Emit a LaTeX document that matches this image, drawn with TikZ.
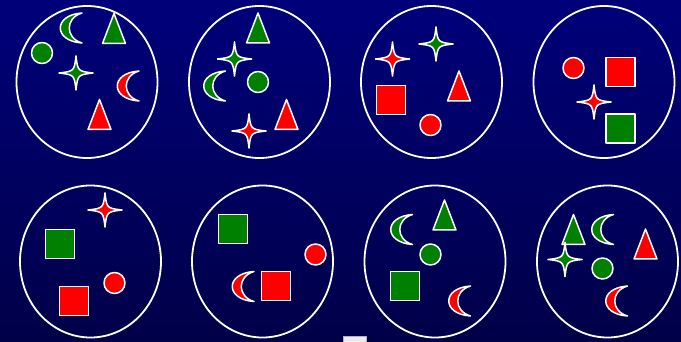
\documentclass[tikz,border=0pt]{standalone}
\usepackage{xcolor}
\usepackage{tikz}
\usetikzlibrary{shapes.geometric}
\definecolor{bgtop}{RGB}{0,0,122}
\definecolor{bgbot}{RGB}{0,0,72}
\definecolor{shgreen}{RGB}{0,128,0}
\definecolor{shred}{RGB}{255,0,0}

\begin{document}
\begin{tikzpicture}[%
  x=1pt, y=-1pt,
  bag/.style={ellipse, draw=white, line width=1.8pt, minimum width=141pt,
    minimum height=152pt, inner sep=0pt},
  gr/.style={fill=shgreen, draw=white, line width=1.5pt, line join=round},
  rd/.style={fill=shred, draw=white, line width=1.5pt, line join=round},
  disc/.style={circle, minimum size=21pt, inner sep=0pt},
  sq/.style={rectangle, minimum size=29pt, inner sep=0pt},
  tri/.pic={\path[pic actions] (0,-15) -- (11.5,15) -- (-11.5,15) -- cycle;},
  moon/.pic={\path[pic actions] (11,-15) .. controls (-18,-13) and (-18,13) .. (11,15)
    .. controls (-6,10) and (-6,-10) .. (11,-15) -- cycle;},
  spark/.pic={\path[pic actions] (0,-17) .. controls (1.8,-1.8) .. (17,0)
    .. controls (1.8,1.8) .. (0,17) .. controls (-1.8,1.8) .. (-17,0)
    .. controls (-1.8,-1.8) .. (0,-17) -- cycle;}]
  \shade[top color=bgtop, bottom color=bgbot] (0,0) rectangle (681,342);
  \useasboundingbox (0,0) rectangle (681,342);

  \node[bag] (bag1) at (87,82) {};
  \node[bag] (bag2) at (259.5,82) {};
  \node[bag] (bag3) at (431.5,82) {};
  \node[bag] (bag4) at (604,82) {};
  \node[bag] (bag5) at (90.5,261.5) {};
  \node[bag] (bag6) at (262.5,261.5) {};
  \node[bag] (bag7) at (435,261.5) {};
  \node[bag] (bag8) at (607.5,261.5) {};

  % first row
  \pic[gr] at (71,28) {moon};
  \pic[gr] at (114,28.5) {tri};
  \node[gr, disc] (disc1) at (42,53) {};
  \pic[gr] at (76,73) {spark};
  \pic[rd] at (128,86) {moon};
  \pic[rd] at (99.5,114.5) {tri};

  \pic[gr] at (258,28) {tri};
  \pic[gr] at (234.5,59) {spark};
  \pic[gr] at (214.5,86) {moon};
  \node[gr, disc] (disc2) at (258,82) {};
  \pic[rd] at (286.5,114.5) {tri};
  \pic[rd] at (249,131) {spark};

  \pic[rd] at (392.5,59) {spark};
  \pic[gr] at (436,44) {spark};
  \node[rd, sq] (sq3) at (391,100) {};
  \pic[rd] at (459,86) {tri};
  \node[rd, disc] (disc3) at (430.5,125) {};

  \node[rd, disc] (disc4) at (573.5,68) {};
  \node[rd, sq] (sq4a) at (620.5,72) {};
  \pic[rd] at (594,102) {spark};
  \node[gr, sq] (sq4b) at (620.5,128.5) {};

  % second row
  \pic[rd] at (105,210) {spark};
  \node[gr, sq] (sq5a) at (60,244) {};
  \node[rd, disc] (disc5) at (114.5,283) {};
  \node[rd, sq] (sq5b) at (74,301) {};

  \node[gr, sq] (sq6a) at (233,229) {};
  \node[rd, disc] (disc6) at (315.5,254.5) {};
  \pic[rd] at (243,286.5) {moon};
  \node[rd, sq] (sq6b) at (276,286) {};

  \pic[gr] at (401.5,229.5) {moon};
  \pic[gr] at (444.5,215) {tri};
  \node[gr, disc] (disc7) at (430.5,254.5) {};
  \node[gr, sq] (sq7) at (405,286) {};
  \pic[rd] at (459.5,301) {moon};

  \pic[gr] at (573.5,229.5) {tri};
  \pic[gr] at (602.5,229.5) {moon};
  \pic[rd] at (645.5,244) {tri};
  \pic[gr] at (565,259.5) {spark};
  \node[gr, disc] (disc8) at (602.5,268.5) {};
  \pic[rd] at (616.5,301) {moon};

  \fill[gray!15, draw=gray!60] (343,336) rectangle (366,343);
\end{tikzpicture}
\end{document}
